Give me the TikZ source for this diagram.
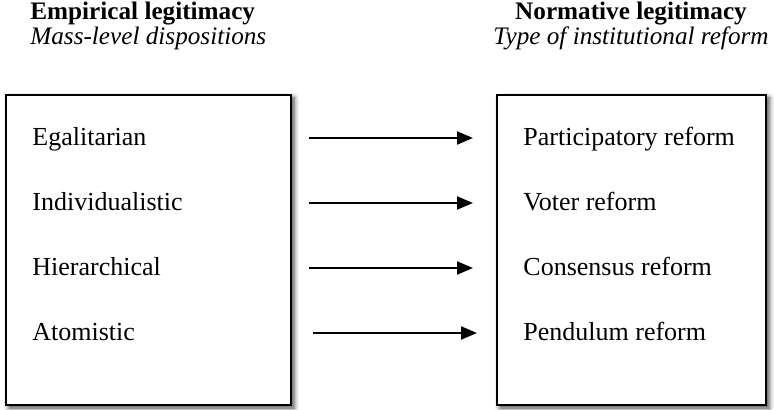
\documentclass[tikz,border=0pt]{standalone}
\usepackage{fontspec}
\setmainfont{Liberation Serif}
\usetikzlibrary{arrows.meta,shadows.blur,positioning}

\begin{document}
\begin{tikzpicture}[
    x=0.5pt, y=-0.5pt,
    panel/.style={draw, line width=1pt, fill=white, inner sep=0pt, minimum height=155pt,
      blur shadow={shadow xshift=1.5pt, shadow yshift=-1.5pt, shadow blur radius=2.5pt, shadow opacity=75}},
    item/.style={anchor=west, inner sep=0pt, text height=10pt, text depth=2pt, font=\fontsize{13}{15}\selectfont},
    heading/.style={inner sep=0pt, font=\fontsize{12.6}{15}\selectfont\bfseries},
    subheading/.style={inner sep=0pt, font=\fontsize{12.6}{15}\selectfont\itshape},
    arrow/.style={-{Triangle[length=8pt,width=6.5pt]}, line width=1pt, shorten <=8.5pt, shorten >=11.5pt}]

\useasboundingbox (0,0) rectangle (774,410);

% Headings
\node[heading, anchor=base west] (emp) at (30,20) {Empirical legitimacy};
\node[subheading, anchor=base west] (mass) at (30,45) {Mass-level dispositions};
\node[heading, anchor=base] (norm) at (631,20) {Normative legitimacy};
\node[subheading, anchor=base] (type) at (631,45) {Type of institutional reform};

% Boxes
\node[panel, minimum width=142.5pt] (lbox) at (148.5,250) {};
\node[panel, minimum width=134.5pt] (rbox) at (631.5,250) {};

% Dispositions
\node[item] (egal) at (32,138) {Egalitarian};
\node[item] (indiv) at (32,203) {Individualistic};
\node[item] (hier) at (32,268) {Hierarchical};
\node[item] (atom) at (32,333) {Atomistic};

% Reforms
\node[item] (part) at (523,138) {Participatory reform};
\node[item] (voter) at (523,203) {Voter reform};
\node[item] (cons) at (523,268) {Consensus reform};
\node[item] (pend) at (523,333) {Pendulum reform};

% Arrows between dispositions and reforms
\draw[arrow] (egal -| lbox.east) -- (part -| rbox.west);
\draw[arrow] (indiv -| lbox.east) -- (voter -| rbox.west);
\draw[arrow] (hier -| lbox.east) -- (cons -| rbox.west);
\draw[arrow, shorten <=10.5pt, shorten >=9.5pt] (atom -| lbox.east) -- (pend -| rbox.west);

\end{tikzpicture}
\end{document}
